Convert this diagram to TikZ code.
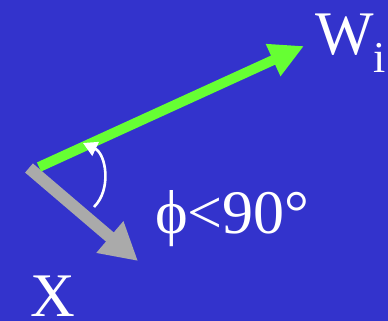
\documentclass[tikz,border=0pt]{standalone}
\usepackage{fontspec}
\setmainfont{Liberation Serif}
\usepackage{tikz}
\usetikzlibrary{arrows.meta, positioning}
\definecolor{cbg}{RGB}{51,51,204}
\definecolor{cgreen}{RGB}{102,255,51}
\definecolor{cgray}{RGB}{170,170,170}

\begin{document}
\begin{tikzpicture}[
  x=1pt, y=-1pt,
  vecw/.style  = {draw=cgreen, line width=10pt,
                  -{Triangle[length=34pt, width=33pt]}},
  vecx/.style  = {draw=cgray, line width=12pt,
                  -{Triangle[length=37pt, width=39pt]}},
  angarr/.style = {draw=white, line width=2.6pt,
                   -{Triangle[length=14pt, width=15pt]}},
  lbl/.style   = {text=white, inner sep=0pt, anchor=base west,
                  font=\fontsize{62}{62}\selectfont},
]
% background
\fill[cbg] (0,0) rectangle (388,321);
\useasboundingbox (0,0) rectangle (388,321);
% end points
\coordinate (xo) at (29,168);
\coordinate (xt) at (138,261);
\coordinate (wo) at (39,167);
\coordinate (wt) at (304,46);
\coordinate (a1) at (94,207);
\coordinate (a2) at (83,143);
% vectors
\draw[vecx] (xo) -- (xt);
\draw[vecw] (wo) -- (wt);
% angle mark
\draw[angarr] (a1) to[bend right=55] (a2);
% labels
\node[lbl] (wlbl) at (315,55) {W\raisebox{-0.28em}{\fontsize{44}{44}\selectfont i}};
\node[lbl] (phi)  at (155,233) {ϕ<90°};
\node[lbl] (xlbl) at (30,316) {X};
\end{tikzpicture}
\end{document}
